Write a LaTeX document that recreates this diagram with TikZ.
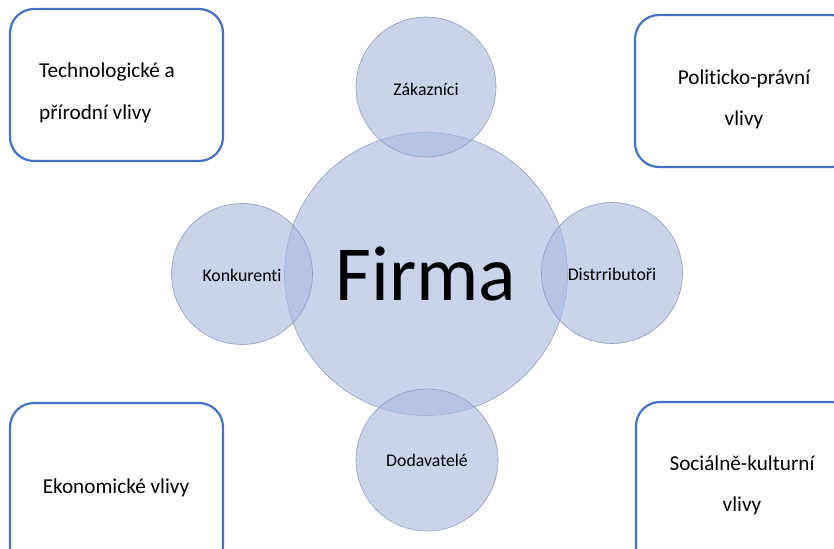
\documentclass[tikz,border=0pt]{standalone}
\usepackage{fontspec}
\setmainfont{Carlito}[Ligatures=NoCommon]
\definecolor{boxblue}{HTML}{4472C4}
\definecolor{discfill}{HTML}{A9BAE0}
\definecolor{discline}{HTML}{8A96B0}
\begin{document}
\begin{tikzpicture}[x=1pt,y=-1pt,
  factorbox/.style={draw=boxblue,line width=2.2pt,rounded corners=24pt,fill=white},
  disc/.style={circle,draw=discline,line width=0.6pt,fill=discfill,fill opacity=0.62,draw opacity=0.9,text opacity=1,inner sep=0pt},
  disclabel/.style={font=\fontsize{17.8}{20}\selectfont,text=black},
  boxtext/.style={font=\fontsize{21.2}{42}\selectfont,text=black,inner sep=0pt}]
\useasboundingbox (0,0) rectangle (834,548);
\fill[white] (0,0) rectangle (834,548);
% outer influence boxes
\draw[factorbox] (10,9) rectangle (223,161);
\draw[factorbox] (635,15) rectangle (856,167);
\draw[factorbox] (10,403) rectangle (223,575);
\draw[factorbox] (636,402) rectangle (856,575);
\node[boxtext,anchor=base west] (tech1) at (39,78) {Technologické a};
\node[boxtext,anchor=base west] (tech2) at (39,120) {přírodní vlivy};
\node[boxtext,anchor=base] (pol1) at (744,85) {Politicko-právní};
\node[boxtext,anchor=base] (pol2) at (744,126) {vlivy};
\node[boxtext,anchor=base] (eko) at (116,493) {Ekonomické vlivy};
\node[boxtext,anchor=base] (soc1) at (742,470) {Sociálně-kulturní};
\node[boxtext,anchor=base] (soc2) at (742,511) {vlivy};
% firm and its surrounding discs
\node[disc,minimum size=283pt] (firma) at (426,274) {};
\node[disc,minimum size=140pt] (zak) at (426,87) {};
\node[disc,minimum size=141pt] (kon) at (242,274) {};
\node[disc,minimum size=141pt] (dis) at (612,273) {};
\node[disc,minimum size=142pt] (dod) at (427,460) {};
\node[font=\fontsize{78}{80}\selectfont,anchor=base] (firmatext) at (426,300) {Firma};
\node[disclabel,anchor=base] (zaktext) at (426,96) {Zákazníci};
\node[disclabel,anchor=base] (kontext) at (242,281) {Konkurenti};
\node[disclabel,anchor=base] (distext) at (612,280) {Distrributoři};
\node[disclabel,anchor=base] (dodtext) at (427,466) {Dodavatelé};
\end{tikzpicture}
\end{document}
